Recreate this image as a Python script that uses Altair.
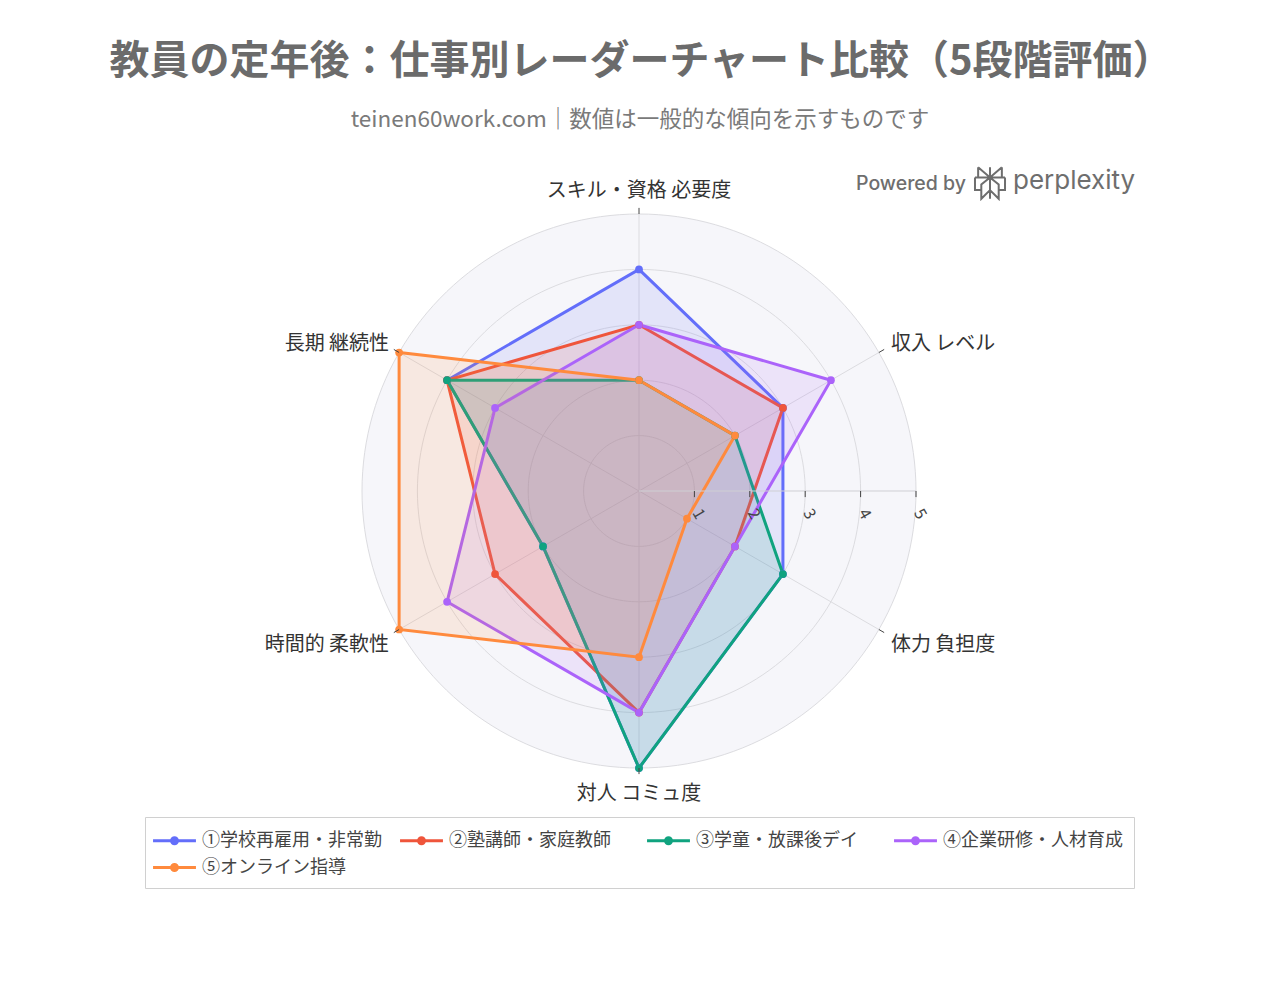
import altair as alt
import pandas as pd

# ---------------- data ----------------
categories = ["スキル・資格 必要度", "収入 レベル", "体力 負担度", "対人 コミュ度", "時間的 柔軟性", "長期 継続性"]
series_names = ["①学校再雇用・非常勤", "②塾講師・家庭教師", "③学童・放課後デイ", "④企業研修・人材育成", "⑤オンライン指導"]
values_school = [4, 3, 3, 5, 2, 4]
values_juku = [3, 3, 2, 4, 3, 4]
values_gakudo = [2, 2, 3, 5, 2, 4]
values_kigyo = [3, 4, 2, 4, 4, 3]
values_online = [2, 2, 1, 3, 5, 5]
tick_values = [1, 2, 3, 4, 5]

title_text = "教員の定年後：仕事別レーダーチャート比較（5段階評価）"
subtitle_text = "teinen60work.com｜数値は一般的な傾向を示すものです"

# ---------------- style ----------------
colors = ["#636EFA", "#EF553B", "#10A37F", "#AB63FA", "#FF8A3D"]
FONT = "Noto Sans CJK JP"
CX, CY, R = 639, 491, 277
RMAX = 5

all_values = [values_school, values_juku, values_gakudo, values_kigyo, values_online]
rows = []
for s, vals in zip(series_names, all_values):
    for i, (c, v) in enumerate(zip(categories, vals)):
        rows.append({"series": s, "cat": c, "idx": i, "value": v})
df = pd.DataFrame(rows)
cat_df = pd.DataFrame({"cat": categories, "idx": list(range(len(categories)))})
tick_df = pd.DataFrame({"v": tick_values})

xs = alt.Scale(domain=[-RMAX, RMAX], range=[CX - R, CX + R])
ys = alt.Scale(domain=[-RMAX, RMAX], range=[CY + R, CY - R])
color_scale = alt.Scale(domain=series_names, range=colors)

ANG = "(90 - datum.idx*60)*PI/180"

def X(field):
    return alt.X(field, type="quantitative", scale=xs, axis=None)

def Y(field):
    return alt.Y(field, type="quantitative", scale=ys, axis=None)

# background disk
disk = alt.Chart(alt.sequence(0, 360, 2, as_="deg")).transform_calculate(
    px=f"{RMAX}*cos(datum.deg*PI/180)", py=f"{RMAX}*sin(datum.deg*PI/180)"
).mark_line(interpolate="linear-closed", fill="#F6F6FA", stroke="#DCDCE0", strokeWidth=1).encode(
    x=X("px"), y=Y("py"), order=alt.Order("deg:Q")
)

# grid circles
grid = alt.Chart(alt.sequence(0, 360, 2, as_="deg")).transform_calculate(
    rr="[1,2,3,4]"
).transform_flatten(["rr"]).transform_calculate(
    px="datum.rr*cos(datum.deg*PI/180)", py="datum.rr*sin(datum.deg*PI/180)"
).mark_line(interpolate="linear-closed", stroke="#DCDCE0", strokeWidth=1).encode(
    x=X("px"), y=Y("py"), order=alt.Order("deg:Q"), detail="rr:Q"
)

# spokes
spokes = alt.Chart(cat_df).transform_calculate(
    x0="0", y0="0", x1=f"{RMAX}*cos({ANG})", y1=f"{RMAX}*sin({ANG})"
).mark_rule(color="#DCDCE0", strokeWidth=1).encode(
    x=X("x0"), y=Y("y0"), x2="x1:Q", y2="y1:Q"
)

# outer small ticks on category axes
outer_ticks = alt.Chart(cat_df).transform_calculate(
    x0=f"{RMAX}*cos({ANG})", y0=f"{RMAX}*sin({ANG})",
    x1=f"{RMAX + 0.11}*cos({ANG})", y1=f"{RMAX + 0.11}*sin({ANG})"
).mark_rule(color="#444444", strokeWidth=1).encode(
    x=X("x0"), y=Y("y0"), x2="x1:Q", y2="y1:Q"
)

# polygons
polys = alt.Chart(df).transform_calculate(
    px=f"datum.value*cos({ANG})", py=f"datum.value*sin({ANG})"
).mark_line(interpolate="linear-closed", strokeWidth=3, fillOpacity=0.13).encode(
    x=X("px"), y=Y("py"), order=alt.Order("idx:Q"),
    color=alt.Color("series:N", scale=color_scale, legend=alt.Legend(
        title=None, orient="none", legendX=145, legendY=817, columns=4, direction="horizontal",
        gridAlign="all", columnPadding=12, rowPadding=5, padding=11,
        labelFont=FONT, labelFontSize=18, labelColor="#444444", labelOffset=15, labelLimit=400,
        symbolType="M-1.95,0H1.95M0.27,0A0.27,0.27,0,1,1,-0.27,0A0.27,0.27,0,1,1,0.27,0",
        symbolSize=484, symbolStrokeWidth=3, symbolOffset=6,
        strokeColor="#D0D0D0", fillColor="#FFFFFF",
    )),
    fill=alt.Fill("series:N", scale=color_scale, legend=None),
)

points = alt.Chart(df).transform_calculate(
    px=f"datum.value*cos({ANG})", py=f"datum.value*sin({ANG})"
).mark_circle(size=60, opacity=1).encode(
    x=X("px"), y=Y("py"),
    color=alt.Color("series:N", scale=color_scale, legend=None),
)

# radial axis
axis_line = alt.Chart(tick_df).transform_aggregate(vmax="max(v)").transform_calculate(
    z="0"
).mark_rule(color="#CFCFD4", strokeWidth=1).encode(
    x=X("z"), x2="vmax:Q", y=Y("z")
)
axis_ticks = alt.Chart(tick_df).transform_calculate(
    z="0", zz="-0.11"
).mark_rule(color="#444444", strokeWidth=1).encode(
    x=X("v"), y=Y("z"), y2="zz:Q"
)
axis_labels = alt.Chart(tick_df).transform_calculate(z="0").mark_text(
    font=FONT, fontSize=16, color="#444444", angle=60, dx=22, dy=8,
    align="center", baseline="middle"
).encode(x=X("v"), y=Y("z"), text="v:Q")

# category labels
label_style = [
    ("center", 0, -23),
    ("left", 12, -9),
    ("left", 12, 15),
    ("center", 0, 26),
    ("right", -10, 15),
    ("right", -10, -9),
]
cat_layers = []
for i, (al, dx, dy) in enumerate(label_style):
    cat_layers.append(
        alt.Chart(cat_df).transform_filter(f"datum.idx == {i}").transform_calculate(
            px=f"{RMAX}*cos({ANG})", py=f"{RMAX}*sin({ANG})"
        ).mark_text(font=FONT, fontSize=20, color="#333333", align=al, baseline="middle", dx=dx, dy=dy).encode(
            x=X("px"), y=Y("py"), text="cat:N"
        )
    )

# titles
title = alt.Chart(pd.DataFrame({"t": [title_text]})).mark_text(
    font=FONT, fontSize=40, fontWeight="bold", color="#6B6B6B", align="center", baseline="middle"
).encode(text="t:N", x=alt.value(641), y=alt.value(62))
subtitle = alt.Chart(pd.DataFrame({"t": [subtitle_text]})).mark_text(
    font=FONT, fontSize=22.5, color="#7A7A7A", align="center", baseline="middle"
).encode(text="t:N", x=alt.value(640), y=alt.value(120))

powered = alt.Chart(pd.DataFrame({"t": ["Powered by"]})).mark_text(
    font="Inter", fontSize=19.5, fontWeight=500, color="#6E6E6E", align="left", baseline="middle"
).encode(text="t:N", x=alt.value(856), y=alt.value(184))
brand = alt.Chart(pd.DataFrame({"t": ["perplexity"]})).mark_text(
    font="Inter", fontSize=26, color="#6E6E6E", align="left", baseline="middle"
).encode(text="t:N", x=alt.value(1013), y=alt.value(181))
logo_path = ("M-0.75,-1L0,-0.35L0.75,-1M0,-1V1M-0.95,-0.35H0.95M-0.75,-1V-0.35M0.75,-1V-0.35"
             "M-0.95,-0.35V0.45H-0.55M0.95,-0.35V0.45H0.55"
             "M0,-0.35L-0.55,0.1V1L0,0.45M0,-0.35L0.55,0.1V1L0,0.45")
logo = alt.Chart(pd.DataFrame({"t": ["logo"]})).mark_point(
    shape=logo_path, size=1000, filled=False, stroke="#6E6E6E", strokeWidth=2, opacity=1
).encode(x=alt.value(990), y=alt.value(183))

chart = alt.layer(
    disk, grid, spokes, polys, points, axis_line, axis_ticks, axis_labels, outer_ticks,
    *cat_layers, title, subtitle, powered, brand, logo
).properties(
    width=1280, height=996, padding=0, autosize=alt.AutoSizeParams(type="none"),
    background="#FFFFFF"
).configure_view(strokeWidth=0)

chart.save("out.html", embed_options={"renderer": "svg", "actions": False})
